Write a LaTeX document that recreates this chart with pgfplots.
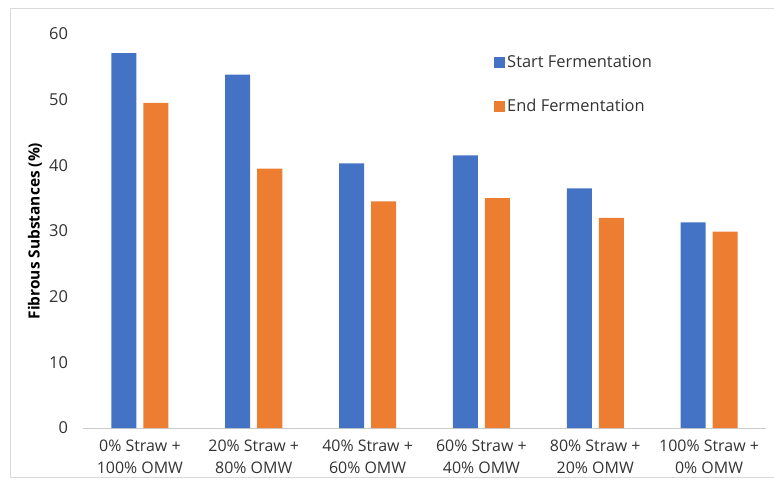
\documentclass[border=0pt]{standalone}
\usepackage{pgfplots}
\pgfplotsset{compat=1.18}
\usepackage{fontspec}
\setmainfont{Open Sans}
\definecolor{cblue}{HTML}{4472C4}
\definecolor{corange}{HTML}{ED7D31}
\begin{document}
\begin{tikzpicture}[x=1bp,y=1bp]
\begin{axis}[
  scale only axis, width=683bp, height=394bp,
  xmin=-0.5, xmax=5.5, ymin=0, ymax=60,
  ybar, bar width=25bp,
  ytick={0,10,...,60},
  xtick={0,...,5},
  xticklabels={0\% Straw +\\100\% OMW, 20\% Straw +\\80\% OMW, 40\% Straw +\\60\% OMW, 60\% Straw +\\40\% OMW, 80\% Straw +\\20\% OMW, 100\% Straw +\\0\% OMW},
  xticklabel style={align=center, font=\fontsize{16}{23}\selectfont, text=black!80, yshift=-8bp},
  yticklabel style={font=\fontsize{16.5}{18}\selectfont, text=black!80, xshift=-11.5bp},
  /pgf/number format/assume math mode=true,
  axis lines*=left,
  x axis line style={-, black!20, line width=0.8bp},
  y axis line style={draw=none},
  major tick length=0pt,
  ylabel={Fibrous Substances (\%)},
  ylabel style={at={(axis description cs:-0.0703,0.5)}, anchor=center, font=\bfseries\fontsize{15.5}{17}\selectfont, text=black},
  legend style={at={(0.6018,0.95)}, anchor=north west, draw=none, fill=none, inner sep=0pt,
    row sep=26bp, font=\fontsize{16.5}{18}\selectfont, text=black!80},
  legend cell align=left,
  legend image code/.code={\fill[#1] (0bp,-5.5bp) rectangle (11bp,5.5bp);},
  clip=false,
]
\coordinate (sw) at (rel axis cs:0,0);
\addplot[fill=cblue, draw=none, bar shift=-16bp] coordinates {(0,57.1) (1,53.8) (2,40.3) (3,41.5) (4,36.5) (5,31.3)};
\addplot[fill=corange, draw=none, bar shift=16bp] coordinates {(0,49.5) (1,39.5) (2,34.5) (3,35.0) (4,32.0) (5,29.9)};
\legend{Start Fermentation, End Fermentation}
\end{axis}
\pgfresetboundingbox
\path[use as bounding box] ([shift={(-83bp,-58bp)}]sw) rectangle ([shift={(691bp,428bp)}]sw);
\draw[black!15, line width=1bp] ([shift={(-72.5bp,-49.5bp)}]sw) rectangle ([shift={(694bp,419.5bp)}]sw);
\end{tikzpicture}
\end{document}
